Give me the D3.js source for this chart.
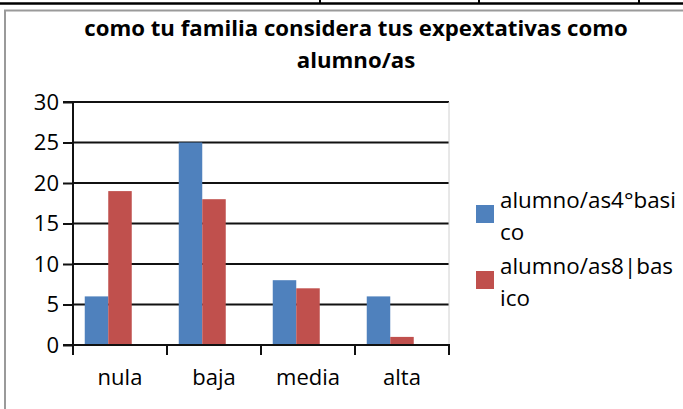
<!DOCTYPE html>
<html>
<head>
<meta charset="utf-8">
<script src="https://cdn.jsdelivr.net/npm/d3@7/dist/d3.min.js"></script>
<style>
  html, body { margin: 0; padding: 0; background: #fff; }
  svg { display: block; }
  text { font-family: "Open Sans", "Noto Sans", sans-serif; fill: #000; }
</style>
</head>
<body>
<svg id="chart" width="683" height="409"></svg>
<script>
// ---- data ----
const categories = ["nula", "baja", "media", "alta"];
const seriesNames = ["alumno/as4°basico", "alumno/as8|basico"];
const series4 = [6, 25, 8, 6];
const series8 = [19, 18, 7, 1];
const yTicks = [0, 5, 10, 15, 20, 25, 30];
const titleLines = ["como tu familia considera tus expextativas como", "alumno/as"];
const legendLines = [["alumno/as4°basi", "co"], ["alumno/as8|bas", "ico"]];
const colors = ["#4F81BD", "#C0504D"];

const svg = d3.select("#chart");

// page decoration (table line above and chart frame)
svg.append("line").attr("x1", 0).attr("x2", 683).attr("y1", 3.5).attr("y2", 3.5)
  .attr("stroke", "#000").attr("stroke-width", 2.5);
[320, 479, 639].forEach(x => {
  svg.append("line").attr("x1", x).attr("x2", x).attr("y1", 0).attr("y2", 4)
    .attr("stroke", "#000").attr("stroke-width", 2);
});
svg.append("rect").attr("x", 5).attr("y", 10.5).attr("width", 700).attr("height", 420)
  .attr("fill", "none").attr("stroke", "#9a9a9a").attr("stroke-width", 2);

// title
svg.append("g").selectAll("text").data(titleLines).join("text")
  .attr("x", 356).attr("y", (d, i) => 36 + i * 32)
  .attr("text-anchor", "middle")
  .attr("font-size", 22.2).attr("font-weight", "bold")
  .text(d => d);

// scales
const plot = { left: 73, right: 449, top: 102, bottom: 345 };
const x0 = d3.scaleBand().domain(categories).range([plot.left, plot.right]).padding(0);
// three slots per group (Excel layout with an empty third slot), half-slot outer padding
const x1 = d3.scaleBand().domain([0, 1, 2]).range([0, x0.bandwidth()]).paddingInner(0).paddingOuter(0.5);
const y = d3.scaleLinear().domain([0, 30]).range([plot.bottom, plot.top]);

// gridlines
svg.append("g").selectAll("line").data(yTicks.filter(t => t > 0)).join("line")
  .attr("x1", plot.left).attr("x2", plot.right)
  .attr("y1", d => y(d)).attr("y2", d => y(d))
  .attr("stroke", "#111").attr("stroke-width", 2);

// right plot border
svg.append("line").attr("x1", plot.right).attr("x2", plot.right)
  .attr("y1", plot.top).attr("y2", plot.bottom)
  .attr("stroke", "#d0d0d0").attr("stroke-width", 1);

// bars
const allSeries = [series4, series8];
const groups = svg.append("g").selectAll("g").data(categories).join("g")
  .attr("transform", d => `translate(${x0(d)},0)`);
groups.selectAll("rect")
  .data((c, ci) => allSeries.map((s, si) => ({ si, v: s[ci] })))
  .join("rect")
  .attr("x", d => x1(d.si))
  .attr("width", x1.bandwidth())
  .attr("y", d => y(d.v))
  .attr("height", d => y(0) - y(d.v))
  .attr("fill", d => colors[d.si]);

// y axis
const yAxis = d3.axisLeft(y).tickValues(yTicks).tickSize(10).tickPadding(4).tickFormat(d3.format("d"));
const gy = svg.append("g").attr("transform", `translate(${plot.left},0)`).call(yAxis);
gy.select(".domain").attr("stroke", "#111").attr("stroke-width", 2).attr("d", `M-10,${plot.top}H0V${plot.bottom + 10}`);
gy.selectAll(".tick line").attr("stroke", "#111").attr("stroke-width", 2);
gy.selectAll(".tick text").attr("font-size", 22).attr("font-family", '"Open Sans", sans-serif').attr("fill", "#000");

// x axis
const gx = svg.append("g").attr("transform", `translate(0,${plot.bottom})`);
gx.append("line").attr("x1", plot.left - 10).attr("x2", plot.right + 1).attr("y1", 0).attr("y2", 0)
  .attr("stroke", "#111").attr("stroke-width", 2);
const boundaries = categories.map(c => x0(c)).concat([plot.right]);
gx.selectAll("line.tk").data(boundaries).join("line").attr("class", "tk")
  .attr("x1", d => d).attr("x2", d => d).attr("y1", 0).attr("y2", 10)
  .attr("stroke", "#111").attr("stroke-width", 2);
gx.selectAll("text").data(categories).join("text")
  .attr("x", d => x0(d) + x0.bandwidth() / 2)
  .attr("y", 40)
  .attr("text-anchor", "middle").attr("font-size", 22)
  .text(d => d);

// legend
const lg = svg.append("g").selectAll("g").data(seriesNames).join("g")
  .attr("transform", (d, i) => `translate(476,${205 + i * 66})`);
lg.append("rect").attr("width", 18).attr("height", 18).attr("fill", (d, i) => colors[i]);
lg.each(function (d, i) {
  d3.select(this).selectAll("text").data(legendLines[i]).join("text")
    .attr("x", 24).attr("y", (t, j) => 3 + j * 32)
    .attr("font-size", 22.4)
    .text(t => t);
});
</script>
</body>
</html>
